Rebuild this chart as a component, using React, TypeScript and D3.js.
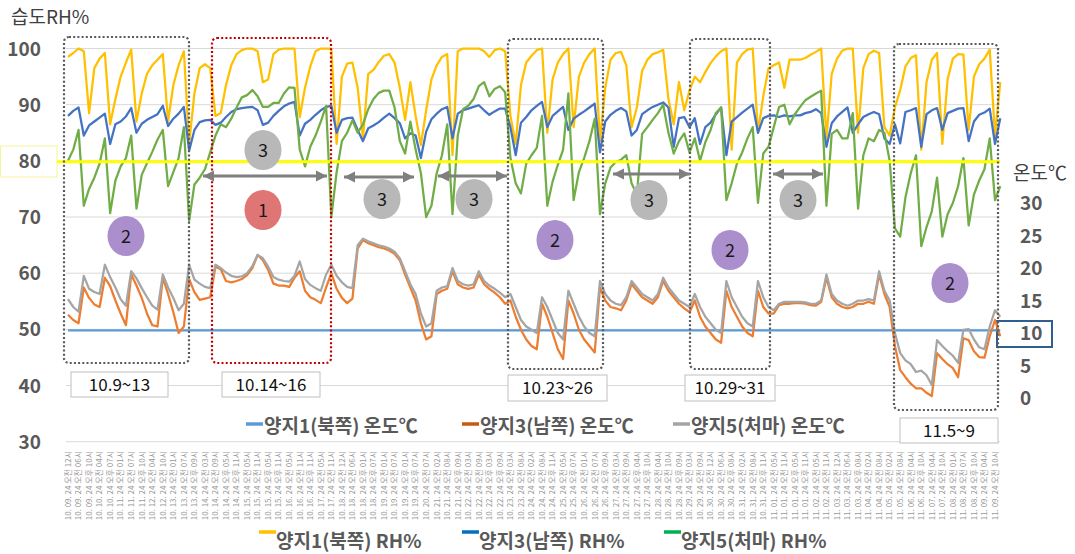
import React from "react";
import * as d3 from "d3";

const xLabels = [
  "10. 09. 24 오전 12시","10. 09. 24 오전 06시","10. 09. 24 오후 10시","10. 10. 24 오전 04시","10. 10. 24 오후 07시",
  "10. 11. 24 오전 01시","10. 11. 24 오전 07시","10. 11. 24 오후 10시","10. 12. 24 오전 04시","10. 12. 24 오전 10시",
  "10. 13. 24 오전 01시","10. 13. 24 오전 07시","10. 13. 24 오후 09시","10. 14. 24 오전 03시","10. 14. 24 오전 09시",
  "10. 14. 24 오후 05시","10. 14. 24 오후 11시","10. 15. 24 오전 05시","10. 15. 24 오전 11시","10. 15. 24 오후 05시",
  "10. 15. 24 오후 11시","10. 16. 24 오전 05시","10. 16. 24 오전 11시","10. 16. 24 오후 11시","10. 17. 24 오전 05시",
  "10. 17. 24 오전 11시","10. 18. 24 오전 12시","10. 18. 24 오전 06시","10. 18. 24 오후 01시","10. 18. 24 오후 07시",
  "10. 19. 24 오전 01시","10. 19. 24 오전 07시","10. 19. 24 오후 01시","10. 19. 24 오후 07시","10. 20. 24 오전 07시",
  "10. 21. 24 오전 02시","10. 21. 24 오전 08시","10. 21. 24 오후 09시","10. 22. 24 오전 03시","10. 22. 24 오전 09시",
  "10. 22. 24 오후 03시","10. 22. 24 오후 09시","10. 23. 24 오전 03시","10. 23. 24 오전 08시","10. 24. 24 오전 02시",
  "10. 24. 24 오전 08시","10. 24. 24 오후 11시","10. 25. 24 오전 05시","10. 25. 24 오후 07시","10. 26. 24 오전 01시",
  "10. 26. 24 오전 07시","10. 26. 24 오후 09시","10. 27. 24 오전 03시","10. 27. 24 오전 09시","10. 27. 24 오후 04시",
  "10. 27. 24 오후 10시","10. 28. 24 오전 04시","10. 28. 24 오전 10시","10. 28. 24 오후 09시","10. 29. 24 오전 03시",
  "10. 29. 24 오전 09시","10. 30. 24 오전 12시","10. 30. 24 오전 06시","10. 30. 24 오후 08시","10. 31. 24 오전 02시",
  "10. 31. 24 오전 08시","10. 31. 24 오후 11시","11. 01. 24 오전 05시","11. 01. 24 오전 11시","11. 01. 24 오후 05시",
  "11. 01. 24 오후 11시","11. 02. 24 오전 05시","11. 02. 24 오전 11시","11. 03. 24 오전 12시","11. 03. 24 오전 06시",
  "11. 03. 24 오후 08시","11. 04. 24 오전 02시","11. 04. 24 오전 08시","11. 05. 24 오전 02시","11. 05. 24 오전 08시",
  "11. 06. 24 오전 04시","11. 06. 24 오후 10시","11. 07. 24 오전 04시","11. 07. 24 오전 10시","11. 08. 24 오전 01시",
  "11. 08. 24 오전 07시","11. 08. 24 오후 10시","11. 09. 24 오전 04시","11. 09. 24 오전 10시"
];

// 양지1(북쪽) RH%
const rh1 = [
  98.5, 99.2, 100, 99.5, 88.5, 96.5, 98.2, 99.2, 86.5, 91,
  95, 97.5, 99.8, 87, 92, 95.5, 97, 98, 99, 87,
  93.5, 97, 99.5, 83, 92, 96.5, 97.2, 96.5, 88, 88.5,
  93.5, 97, 99, 99.7, 100, 100, 99.5, 94, 94.5, 99,
  99.8, 100, 100, 100, 87.8, 93, 96.8, 99.5, 100, 100,
  100, 83, 95, 97.3, 97.5, 93, 84, 95.5, 96.2, 97.6,
  98.7, 99, 97.5, 93, 87.3, 94, 88, 82.8, 89, 94.5,
  97, 98.5, 99, 81, 99.5, 100, 100, 100, 100, 99.5,
  98.5, 99.7, 100, 99.5, 88, 83, 93.5, 97.5, 98.7, 99.7,
  100, 85, 94.5, 97.5, 99, 100, 86, 95, 97.5, 99,
  100, 83.5, 93, 98, 99.2, 99.4, 97, 86, 89.5, 96,
  98, 99, 99.3, 99.8, 91, 86.5, 94, 89, 92.5, 95,
  94, 95.8, 97.4, 98.6, 99.5, 100, 82, 97.5, 99, 99.8,
  100, 85, 91.5, 96.5, 97, 97.5, 93, 98, 98, 98,
  98.3, 98.9, 99.4, 100, 84, 95.5, 98.2, 99.6, 100, 100,
  85, 96.5, 99, 99.6, 99.2, 86, 84.5, 89.5, 92.6, 96.8,
  98.3, 98.8, 82, 94, 98, 99.2, 83, 94.5, 98.2, 99,
  98.9, 85.5, 95, 97.2, 98.2, 99.8, 84.5, 94
];

// 양지3(남쪽) RH%
const rh3 = [
  88, 88.9, 89.5, 84.5, 86.3, 87, 87.7, 88.4, 83, 86.5,
  87, 87.9, 89.4, 85, 86.6, 87.3, 87.8, 88.3, 89.8, 86.2,
  87.5, 88.4, 89.6, 81.8, 85.5, 86.9, 87.2, 87.3, 86.4, 86.8,
  87.8, 88.7, 89.2, 89.4, 89.5, 89.6, 89, 86.4, 86.8, 88,
  88.9, 89.7, 90.2, 90.5, 84.5, 86.6, 87.3, 88.2, 89, 89.6,
  89.8, 85, 87.3, 87.6, 87.7, 85.5, 83.5, 85.8, 86.3, 86.9,
  87.7, 88.4, 87.6, 86.7, 84, 84.9, 84.5, 80.5, 85.2, 87.4,
  88.4, 89.2, 89.6, 84, 88.4, 89, 89.3, 89.6, 89.9, 89,
  88.2, 88.8, 89.3, 89.3, 86, 81, 86.8, 87.8, 89, 89.8,
  90.5, 86, 88, 88.8, 89.6, 85.5, 87.5, 88.2, 88.8, 89.5,
  90.2, 81.5, 87, 88.2, 88.9, 89.4, 88.8, 84.5, 85.5, 88.3,
  89, 89.6, 90, 90.4, 89.5, 82.5, 87.6, 87.8, 86, 87.6,
  83, 86, 86.8, 88.3, 89.5, 81, 87, 87.8, 88.6, 89.3,
  90, 85, 87.6, 88, 88.1, 87.8, 88.1, 87.9, 88.1, 88.1,
  88.5, 88.7, 89.2, 88.5, 82.5, 86.7, 87.9, 88.7, 89.5, 85,
  86.5, 87.8, 88.3, 88.7, 88.3, 84, 83, 86.5, 83.1, 88.7,
  89, 89.4, 82.5, 88.3, 89, 89.4, 85.5, 88.5, 88.9, 89.3,
  89.4, 83.5, 87, 88.2, 88.6, 89.3, 83, 87.6
];

// 양지5(처마) RH%
const rh5 = [
  80, 82, 85.5, 72, 75, 77, 79.5, 84, 70.7, 76.5,
  79, 80.5, 84.5, 71.5, 77.5, 79.6, 81.6, 83.8, 85.5, 75.5,
  78, 80.5, 86, 69.3, 75.8, 77, 78.5, 81.5, 84.5, 86.5,
  86, 87.5, 89.5, 91.3, 91.7, 92.6, 91.5, 89.6, 89.6, 90.3,
  90.3, 92, 93.1, 93, 82, 79, 82.5, 84.5, 87, 89.8,
  70, 78, 83.5, 85, 87.2, 85, 86.5, 89.2, 91, 92.1,
  92.5, 92.5, 89.5, 83.5, 81.3, 87, 82, 77.8, 70, 72,
  77.8, 81, 86.5, 70.5, 84.5, 89.2, 89.8, 91, 93.3, 94,
  91.5, 92.8, 93.3, 92.2, 80.5, 76, 74.2, 79.5, 81, 82.3,
  88, 72, 76.3, 79.3, 82, 92, 73, 78, 80.5, 83.5,
  87.5, 70.5, 76, 78.8, 79.8, 80.2, 81, 76, 74, 84.8,
  86, 87.3, 88.5, 90, 85, 81.3, 83.5, 84.9, 81.5, 84,
  80, 83.3, 85.5, 88.5, 89.5, 73, 76, 79.5, 81.5, 84,
  86, 72.5, 81.3, 82.5, 86, 89.6, 90, 86.5, 88.3, 89.6,
  90.8, 91.4, 92, 92.5, 72, 84.8, 85.5, 84, 84, 88.5,
  71.5, 81, 84, 83.5, 85.5, 85, 80, 68, 66.5, 73.5,
  77.8, 81, 64.8, 68.2, 71, 77, 66.5, 70.5, 72.5, 75.5,
  80.5, 68.5, 74, 76.5, 78.5, 84, 73, 75.5
];

// 양지1(북쪽) 온도℃
const t1 = [
  10.4, 10.4, 10.4, 10.4, 10.4, 10.4, 10.4, 10.4, 10.4, 10.4,
  10.4, 10.4, 10.4, 10.4, 10.4, 10.4, 10.4, 10.4, 10.4, 10.4,
  10.4, 10.4, 10.4, 10.4, 10.4, 10.4, 10.4, 10.4, 10.4, 10.4,
  10.4, 10.4, 10.4, 10.4, 10.4, 10.4, 10.4, 10.4, 10.4, 10.4,
  10.4, 10.4, 10.4, 10.4, 10.4, 10.4, 10.4, 10.4, 10.4, 10.4,
  10.4, 10.4, 10.4, 10.4, 10.4, 10.4, 10.4, 10.4, 10.4, 10.4,
  10.4, 10.4, 10.4, 10.4, 10.4, 10.4, 10.4, 10.4, 10.4, 10.4,
  10.4, 10.4, 10.4, 10.4, 10.4, 10.4, 10.4, 10.4, 10.4, 10.4,
  10.4, 10.4, 10.4, 10.4, 10.4, 10.4, 10.4, 10.4, 10.4, 10.4,
  10.4, 10.4, 10.4, 10.4, 10.4, 10.4, 10.4, 10.4, 10.4, 10.4,
  10.4, 10.4, 10.4, 10.4, 10.4, 10.4, 10.4, 10.4, 10.4, 10.4,
  10.4, 10.4, 10.4, 10.4, 10.4, 10.4, 10.4, 10.4, 10.4, 10.4,
  10.4, 10.4, 10.4, 10.4, 10.4, 10.4, 10.4, 10.4, 10.4, 10.4,
  10.4, 10.4, 10.4, 10.4, 10.4, 10.4, 10.4, 10.4, 10.4, 10.4,
  10.4, 10.4, 10.4, 10.4, 10.4, 10.4, 10.4, 10.4, 10.4, 10.4,
  10.4, 10.4, 10.4, 10.4, 10.4, 10.4, 10.4, 10.4, 10.4, 10.4,
  10.4, 10.4, 10.4, 10.4, 10.4, 10.4, 10.4, 10.4, 10.4, 10.4,
  10.4, 10.4, 10.4, 10.4, 10.4, 10.4, 10.4, 10.4
];

// 양지3(남쪽) 온도℃
const t3 = [
  12.8, 12, 11.5, 17, 15.4, 14.4, 14, 18.5, 17.2, 15,
  13, 11.2, 19, 17.3, 15.4, 13, 11.2, 11, 18.5, 16,
  13.2, 10, 11, 18.3, 16.3, 15.1, 15.3, 15.5, 20.2, 19.8,
  18, 17.8, 18, 18.3, 18.9, 20, 22, 21.2, 19.7, 17.6,
  17.3, 17.3, 17.1, 18.5, 19.5, 16.5, 15.5, 15.1, 14.6, 17,
  19.2, 16.8, 15.4, 14.6, 15.3, 23, 24.3, 23.8, 23.5, 23.2,
  23, 22.7, 22.2, 21.2, 19, 17, 15, 11.5, 9, 9.5,
  16, 16.5, 16.8, 19.5, 17.5, 17, 16.8, 17, 19, 17.5,
  16.8, 16.2, 15.5, 14.5, 15, 12.5, 10.5, 9, 8, 7.5,
  14.5, 12.5, 10, 7.5, 6, 15, 13, 10.5, 9, 8,
  7, 17, 15, 14, 13.8, 13.5, 15, 17.5, 16.5, 15.5,
  15, 14.5, 15.5, 18, 16.5, 15.5, 14.5, 13.8, 13.2, 15,
  12.5, 11, 10, 9, 8.5, 16.5, 14, 12.5, 11, 10,
  9.5, 16.5, 14, 13, 13, 14.3, 14.5, 14.5, 14.6, 14.6,
  14.5, 14.3, 14.2, 14.8, 18.5, 15.5, 14.5, 14, 13.8, 14,
  14.5, 14.5, 14.8, 14.5, 19, 16, 14, 8, 4.3, 3.2,
  2.2, 1.5, 1.5, 0.8, 0.3, 6.9, 6, 5.2, 4.6, 3.2,
  9.2, 8.9, 7.2, 6.3, 6.2, 9.5, 12, 9.5
];

// 양지5(처마) 온도℃
const t5 = [
  15.2, 14, 13.3, 18.8, 16.8, 16.3, 16, 20.5, 18.6, 17,
  15.2, 14.2, 19.5, 18.4, 16.9, 15.5, 14.2, 13.6, 19, 17,
  15.4, 13.5, 14.5, 20.5, 18.2, 17.6, 17.1, 16.9, 20.5, 20,
  19.3, 18.8, 18.6, 18.7, 19.2, 20.3, 22, 21.5, 20.2, 18.6,
  18.2, 18, 17.9, 18.8, 21, 18.3, 17.4, 16.9, 16.5, 19,
  20.5, 18.8, 17.8, 17.1, 16.9, 23.5, 24.5, 24.1, 23.8, 23.5,
  23.3, 23, 22.5, 21.5, 19.5, 17.5, 16, 13, 11, 11.5,
  16.5, 17, 17.2, 20, 18, 17.5, 17.3, 17.5, 19.5, 18,
  17.3, 16.8, 16.2, 15.5, 16, 14, 12, 11, 10.5, 10,
  15.5, 14, 12, 10, 9, 16.5, 14.5, 12.5, 11, 10,
  9.5, 18, 16, 15, 14.5, 14.3, 15.5, 18, 17, 16,
  15.5, 15, 16, 18.5, 17, 16, 15, 14.5, 14, 16,
  14, 12.5, 11.5, 10.5, 10, 18, 15.5, 14, 12.5, 11.5,
  11, 18, 15.5, 14, 13.5, 14.5, 14.8, 14.8, 14.8, 14.8,
  14.7, 14.5, 14.5, 15, 19, 16, 15, 14.5, 14.2, 14.5,
  15, 15, 15.2, 15, 19.5, 16.5, 15, 10, 6.9, 5.8,
  5.2, 4, 4.2, 3.5, 2, 8.9, 8, 7.2, 6.5, 5.4,
  10.5, 10.6, 9, 7.8, 7.5, 11, 13.5, 12.5
];

const rhTicks = [100, 90, 80, 70, 60, 50, 40, 30];
const tempTicks = [30, 25, 20, 15, 10, 5, 0];

const FONT = "'Noto Sans CJK KR','Noto Sans',sans-serif";

const xL = d3.scaleLinear().domain([0, 88]).range([68, 995]);
const yRH = d3.scaleLinear().domain([30, 100]).range([441.7, 48.5]);
const yT = d3.scaleLinear().domain([0, 30]).range([398, 203]);

const rhLine = d3.line<number>().x((_, i) => xL(i / 2)).y((d) => yRH(d));
const tLine = d3.line<number>().x((_, i) => xL(i / 2)).y((d) => yT(d));

const dottedBoxes = [
  { x: 64, y: 37, w: 125, h: 326, c: "#595959" },
  { x: 212, y: 38, w: 119, h: 325, c: "#c00000" },
  { x: 508, y: 39, w: 95, h: 330, c: "#595959" },
  { x: 690, y: 39, w: 80, h: 330, c: "#595959" },
  { x: 894, y: 44, w: 104, h: 366, c: "#595959" },
];

const dateBoxes = [
  { x: 71, y: 372, w: 97, h: 25, t: "10.9~13" },
  { x: 222, y: 372, w: 98, h: 25, t: "10.14~16" },
  { x: 508, y: 375, w: 99, h: 26, t: "10.23~26" },
  { x: 685, y: 375, w: 90, h: 26, t: "10.29~31" },
  { x: 900, y: 418, w: 98, h: 25, t: "11.5~9" },
];

const ellipses = [
  { cx: 126, cy: 236, c: "#ab8fcc", t: "2" },
  { cx: 263, cy: 210, c: "#df7575", t: "1" },
  { cx: 263, cy: 150, c: "#b8b8b8", t: "3" },
  { cx: 382, cy: 199, c: "#b8b8b8", t: "3" },
  { cx: 474, cy: 199, c: "#b8b8b8", t: "3" },
  { cx: 649, cy: 200, c: "#b8b8b8", t: "3" },
  { cx: 798, cy: 200, c: "#b8b8b8", t: "3" },
  { cx: 555, cy: 240, c: "#ab8fcc", t: "2" },
  { cx: 730, cy: 250, c: "#ab8fcc", t: "2" },
  { cx: 950, cy: 283, c: "#ab8fcc", t: "2" },
];

const arrows = [
  { x1: 203, x2: 327, y: 176 },
  { x1: 344, x2: 414, y: 177 },
  { x1: 438, x2: 507, y: 176 },
  { x1: 613, x2: 690, y: 174 },
  { x1: 773, x2: 823, y: 174 },
];

const legendTemp = [
  { x: 246, c: "#5b9bd5", t: "양지1(북쪽) 온도℃" },
  { x: 462, c: "#c55a11", t: "양지3(남쪽) 온도℃" },
  { x: 673, c: "#a5a5a5", t: "양지5(처마) 온도℃" },
];
const legendRH = [
  { x: 259, c: "#ffc000", t: "양지1(북쪽) RH%" },
  { x: 462, c: "#0070c0", t: "양지3(남쪽) RH%" },
  { x: 664, c: "#00b050", t: "양지5(처마) RH%" },
];

export default function App() {
  return (
    <svg
      width={1075}
      height={554}
      style={{ position: "absolute", left: 0, top: 0, background: "#fff" }}
      fontFamily={FONT}
    >
      <defs>
        <marker id="ah" markerUnits="userSpaceOnUse" markerWidth={12} markerHeight={12}
          refX={11} refY={6} orient="auto-start-reverse">
          <path d="M0,0.5 L11,6 L0,11.5 z" fill="#7f7f7f" />
        </marker>
      </defs>
      <rect x={0} y={0} width={1075} height={554} fill="#fff" />

      {/* gridlines */}
      {rhTicks.map((v) => (
        <line key={v} x1={66} x2={1000} y1={yRH(v)} y2={yRH(v)} stroke="#d9d9d9" strokeWidth={1} />
      ))}

      {/* title */}
      <text x={11} y={24} fontSize={19} fill="#404040">습도RH%</text>

      {/* left axis labels */}
      {rhTicks.map((v) => (
        <text key={v} x={41} y={yRH(v) + 7} fontSize={19} fontWeight="bold" fill="#595959" textAnchor="end">
          {v}
        </text>
      ))}
      <rect x={0.5} y={146} width={56.5} height={31} fill="none" stroke="#f5f59a" strokeWidth={1} />

      {/* right axis labels */}
      <text x={1013} y={180} fontSize={19} fill="#404040">온도℃</text>
      {tempTicks.map((v) => (
        <text key={v} x={1020} y={yT(v) + 7} fontSize={19} fontWeight="bold" fill="#595959">
          {v}
        </text>
      ))}
      <rect x={997} y={321} width={55} height={26} fill="none" stroke="#2f5f8f" strokeWidth={2} />

      {/* x labels */}
      {xLabels.map((t, j) => (
        <text key={j} transform={`translate(${xL(j)},451) rotate(-90)`} textAnchor="end" dy="0.35em"
          fontSize={8} fill="#9a9a9a">
          {t}
        </text>
      ))}

      {/* series */}
      <path d={rhLine(rh1) || ""} fill="none" stroke="#ffc000" strokeWidth={2.25} strokeLinejoin="round" />
      <path d={rhLine(rh3) || ""} fill="none" stroke="#4472c4" strokeWidth={2.25} strokeLinejoin="round" />
      <path d={rhLine(rh5) || ""} fill="none" stroke="#70ad47" strokeWidth={2.25} strokeLinejoin="round" />
      <path d={tLine(t1) || ""} fill="none" stroke="#5b9bd5" strokeWidth={2.25} />
      <path d={tLine(t3) || ""} fill="none" stroke="#ed7d31" strokeWidth={2.25} strokeLinejoin="round" />
      <path d={tLine(t5) || ""} fill="none" stroke="#a5a5a5" strokeWidth={2.25} strokeLinejoin="round" />

      {/* 80% reference */}
      <line x1={57} x2={1000} y1={yRH(80) + 1} y2={yRH(80) + 1} stroke="#ffff00" strokeWidth={3} />

      {/* dotted boxes */}
      {dottedBoxes.map((b, i) => (
        <rect key={i} x={b.x} y={b.y} width={b.w} height={b.h} rx={5} fill="none" stroke={b.c}
          strokeWidth={2.2} strokeDasharray="2 2.2" />
      ))}

      {/* arrows */}
      {arrows.map((a, i) => (
        <line key={i} x1={a.x1} x2={a.x2} y1={a.y} y2={a.y} stroke="#7f7f7f" strokeWidth={3}
          markerStart="url(#ah)" markerEnd="url(#ah)" />
      ))}

      {/* ellipses */}
      {ellipses.map((e, i) => (
        <g key={i}>
          <ellipse cx={e.cx} cy={e.cy} rx={18.5} ry={20} fill={e.c} />
          <text x={e.cx} y={e.cy + 6.5} fontSize={18} fill="#1a1a1a" textAnchor="middle">{e.t}</text>
        </g>
      ))}

      {/* date boxes */}
      {dateBoxes.map((b, i) => (
        <g key={i}>
          <rect x={b.x} y={b.y} width={b.w} height={b.h} fill="#fff" stroke="#bfbfbf" strokeWidth={1} />
          <text x={b.x + b.w / 2} y={b.y + b.h / 2 + 6} fontSize={17} fill="#111" textAnchor="middle">{b.t}</text>
        </g>
      ))}

      {/* legends */}
      {legendTemp.map((l, i) => (
        <g key={i}>
          <line x1={l.x} x2={l.x + 17} y1={424} y2={424} stroke={l.c} strokeWidth={3.5} />
          <text x={l.x + 18} y={433} fontSize={19} fontWeight="bold" fill="#595959">{l.t}</text>
        </g>
      ))}
      {legendRH.map((l, i) => (
        <g key={i}>
          <line x1={l.x} x2={l.x + 17} y1={532} y2={532} stroke={l.c} strokeWidth={3.5} />
          <text x={l.x + 17} y={548} fontSize={19} fontWeight="bold" fill="#595959">{l.t}</text>
        </g>
      ))}
    </svg>
  );
}
